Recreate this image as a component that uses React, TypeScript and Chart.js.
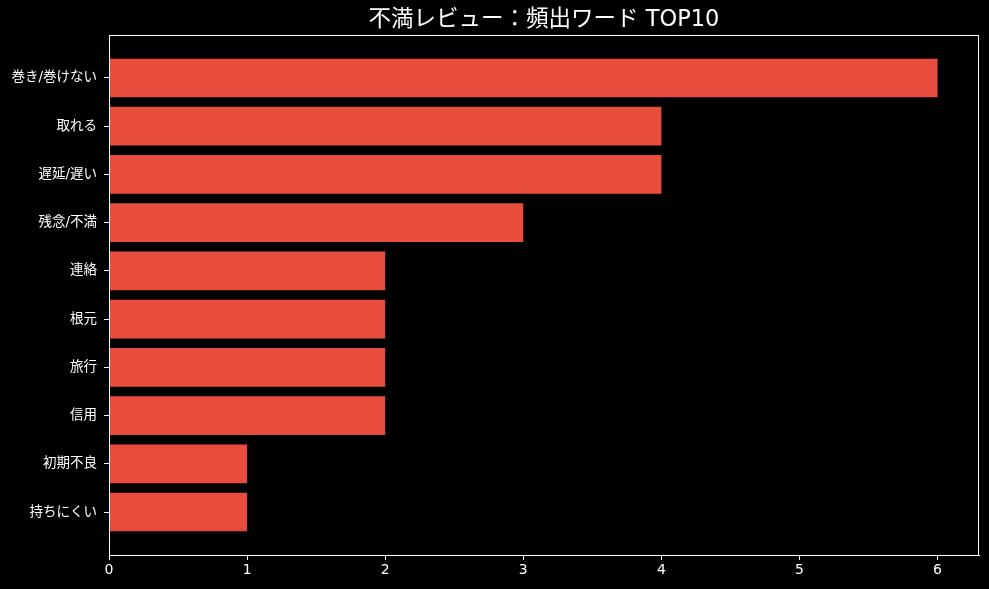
import React, { useEffect, useRef } from "react";
import { Chart, registerables } from "chart.js";

Chart.register(...registerables);

const titleText = "不満レビュー：頻出ワード TOP10";
const categories = ["巻き/巻けない", "取れる", "遅延/遅い", "残念/不満", "連絡", "根元", "旅行", "信用", "初期不良", "持ちにくい"];
const counts = [6, 4, 4, 3, 2, 2, 2, 2, 1, 1];
const xTicks = [0, 1, 2, 3, 4, 5, 6];

const FONT = "'DejaVu Sans', 'Noto Sans CJK JP', sans-serif";

const framePlugin = {
  id: "frame",
  afterDraw(chart: any) {
    const { ctx, chartArea } = chart;
    ctx.save();
    ctx.strokeStyle = "#ffffff";
    ctx.lineWidth = 1;
    ctx.strokeRect(chartArea.left + 0.5, chartArea.top + 0.5, chartArea.right - chartArea.left - 1, chartArea.bottom - chartArea.top);
    ctx.fillStyle = "#ffffff";
    ctx.font = `22.5px ${FONT}`;
    ctx.textAlign = "center";
    ctx.textBaseline = "middle";
    ctx.fillText(titleText, (chartArea.left + chartArea.right) / 2, 20);
    ctx.restore();
  },
};

const bgPlugin = {
  id: "bg",
  beforeDraw(chart: any) {
    const { ctx, width, height } = chart;
    ctx.save();
    ctx.fillStyle = "#000000";
    ctx.fillRect(0, 0, width, height);
    ctx.restore();
  },
};

export default function App() {
  const ref = useRef<HTMLCanvasElement>(null);
  useEffect(() => {
    if (!ref.current) return;
    const chart = new Chart(ref.current, {
      type: "bar",
      data: {
        datasets: [
          {
            data: counts.map((v, i) => ({ x: v, y: i })),
            backgroundColor: "#e74c3c",
            borderWidth: 0,
            barPercentage: 0.8,
            categoryPercentage: 1.0,
          },
        ],
      },
      options: {
        indexAxis: "y",
        animation: false,
        responsive: false,
        maintainAspectRatio: false,
        layout: { padding: { top: 35, right: 10, left: 0, bottom: 0 } },
        plugins: { legend: { display: false }, title: { display: false }, tooltip: { enabled: false } },
        scales: {
          x: {
            type: "linear",
            min: 0,
            max: 6.3,
            offset: false,
            afterBuildTicks: (scale: any) => {
              scale.ticks = xTicks.map((v) => ({ value: v }));
            },
            afterFit: (scale: any) => {
              scale.height = 34;
            },
            grid: { drawOnChartArea: false, offset: false, color: "#ffffff", tickLength: 5, tickWidth: 1 },
            border: { color: "#ffffff", width: 1 },
            ticks: { color: "#ffffff", font: { family: FONT, size: 14 }, padding: 2, maxRotation: 0 },
          },
          y: {
            type: "linear",
            reverse: true,
            min: -0.89,
            max: 9.89,
            offset: false,
            afterBuildTicks: (scale: any) => {
              scale.ticks = categories.map((_, i) => ({ value: i }));
            },
            afterFit: (scale: any) => {
              scale.width = 109;
            },
            grid: { drawOnChartArea: false, offset: false, color: "#ffffff", tickLength: 5, tickWidth: 1 },
            border: { color: "#ffffff", width: 1 },
            ticks: {
              color: "#ffffff",
              font: { family: FONT, size: 13.5 },
              padding: 7,
              callback: (v: any) => categories[Math.round(Number(v))] ?? "",
            },
          },
        },
      },
      plugins: [bgPlugin, framePlugin],
    } as any);
    return () => chart.destroy();
  }, []);
  return (
    <div style={{ position: "fixed", left: 0, top: 0, width: 989, height: 589, background: "#000" }}>
      <canvas ref={ref} width={989} height={589} style={{ width: 989, height: 589 }} />
    </div>
  );
}
